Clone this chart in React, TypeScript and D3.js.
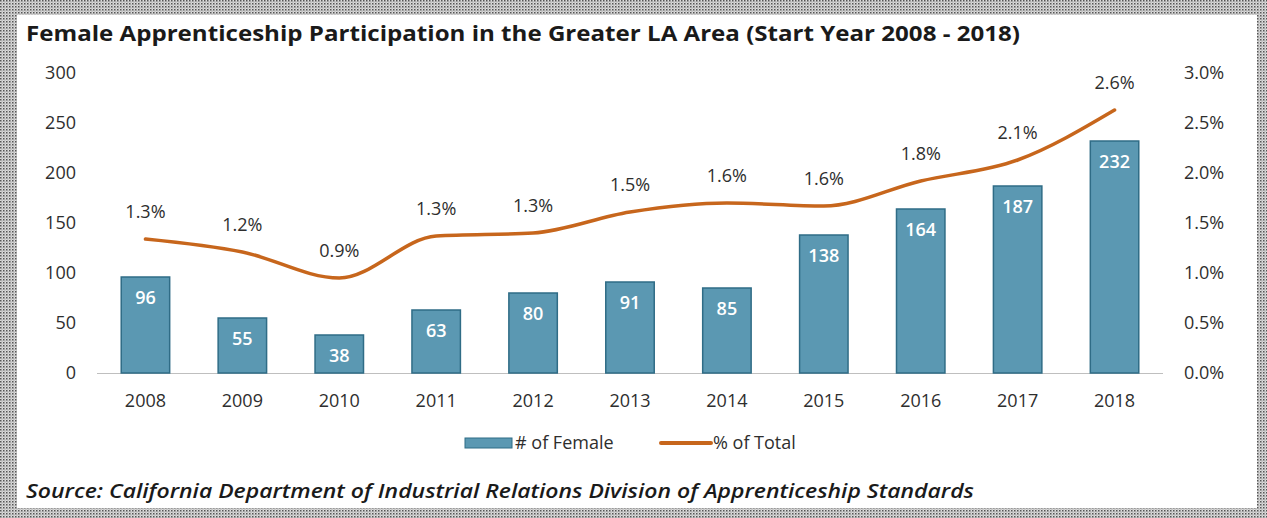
import * as d3 from "d3";
import { useEffect, useRef } from "react";

const years = ["2008", "2009", "2010", "2011", "2012", "2013", "2014", "2015", "2016", "2017", "2018"];
const femaleCounts = [96, 55, 38, 63, 80, 91, 85, 138, 164, 187, 232];
const pctOfTotal = [1.34, 1.21, 0.95, 1.37, 1.4, 1.61, 1.7, 1.67, 1.92, 2.13, 2.63];
const pctLabels = ["1.3%", "1.2%", "0.9%", "1.3%", "1.3%", "1.5%", "1.6%", "1.6%", "1.8%", "2.1%", "2.6%"];
const leftTicks = [0, 50, 100, 150, 200, 250, 300];
const rightTicks = [0, 0.5, 1, 1.5, 2, 2.5, 3];

export default function App() {
  const svgRef = useRef<SVGSVGElement | null>(null);

  useEffect(() => {
    if (!svgRef.current) return;
    const width = 1267;
    const height = 518;
    const font = "'Open Sans', 'DejaVu Sans', sans-serif";
    const labelColor = "#2e2e2e";

    const svg = d3.select(svgRef.current);
    svg.selectAll("*").remove();

    // dotted frame
    const defs = svg.append("defs");
    const pat = defs
      .append("pattern")
      .attr("id", "dots")
      .attr("width", 3)
      .attr("height", 3)
      .attr("patternUnits", "userSpaceOnUse");
    pat.append("rect").attr("width", 3).attr("height", 3).attr("fill", "#dcdcdc");
    pat.append("rect").attr("x", 0).attr("y", 0).attr("width", 1.5).attr("height", 1.5).attr("fill", "#555");
    pat.append("rect").attr("x", 1.5).attr("y", 1.5).attr("width", 1).attr("height", 1).attr("fill", "#888");

    svg.append("rect").attr("width", width).attr("height", height).attr("fill", "url(#dots)");
    svg
      .append("rect")
      .attr("x", 17)
      .attr("y", 15)
      .attr("width", 1257 - 17)
      .attr("height", 508 - 15)
      .attr("fill", "#fff");

    const x = d3.scaleBand<string>().domain(years).range([97, 1163]).paddingInner(0.5).paddingOuter(0.25);
    const yL = d3.scaleLinear().domain([0, 300]).range([373, 73]);
    const yR = d3.scaleLinear().domain([0, 3]).range([373, 73]);

    // title
    svg
      .append("text")
      .attr("x", 26)
      .attr("y", 41)
      .attr("font-family", font)
      .attr("font-weight", 700)
      .attr("font-size", 21)
      .attr("fill", "#1a1a1a")
      .attr("textLength", 994)
      .attr("lengthAdjust", "spacingAndGlyphs")
      .text("Female Apprenticeship Participation in the Greater LA Area (Start Year 2008 - 2018)");

    // left axis labels
    svg
      .append("g")
      .selectAll("text")
      .data(leftTicks)
      .enter()
      .append("text")
      .attr("x", 76)
      .attr("y", (d) => yL(d))
      .attr("dy", "0.35em")
      .attr("text-anchor", "end")
      .attr("font-family", font)
      .attr("font-size", 18)
      .attr("fill", labelColor)
      .text((d) => String(d));

    // right axis labels
    svg
      .append("g")
      .selectAll("text")
      .data(rightTicks)
      .enter()
      .append("text")
      .attr("x", 1184)
      .attr("y", (d) => yR(d))
      .attr("dy", "0.35em")
      .attr("font-family", font)
      .attr("font-size", 18)
      .attr("fill", labelColor)
      .text((d) => d3.format(".1f")(d) + "%");

    // baseline
    svg
      .append("line")
      .attr("x1", 97)
      .attr("x2", 1163)
      .attr("y1", yL(0) + 0.5)
      .attr("y2", yL(0) + 0.5)
      .attr("stroke", "#bfbfbf")
      .attr("stroke-width", 1);

    // bars
    svg
      .append("g")
      .selectAll("rect")
      .data(femaleCounts)
      .enter()
      .append("rect")
      .attr("x", (_, i) => x(years[i])!)
      .attr("y", (d) => yL(d))
      .attr("width", x.bandwidth())
      .attr("height", (d) => yL(0) - yL(d))
      .attr("fill", "#5b98b2")
      .attr("stroke", "#2f6c86")
      .attr("stroke-width", 1.5);

    svg
      .append("g")
      .selectAll("text")
      .data(femaleCounts)
      .enter()
      .append("text")
      .attr("x", (_, i) => x(years[i])! + x.bandwidth() / 2)
      .attr("y", (d) => yL(d) + 21)
      .attr("dy", "0.35em")
      .attr("text-anchor", "middle")
      .attr("font-family", font)
      .attr("font-weight", 600)
      .attr("font-size", 18)
      .attr("fill", "#ffffff")
      .text((d) => String(d));

    // line
    const cx = (i: number) => x(years[i])! + x.bandwidth() / 2;
    const line = d3
      .line<number>()
      .x((_, i) => cx(i))
      .y((d) => yR(d))
      .curve(d3.curveMonotoneX);
    svg
      .append("path")
      .datum(pctOfTotal)
      .attr("d", line)
      .attr("fill", "none")
      .attr("stroke", "#c7661c")
      .attr("stroke-width", 3.5)
      .attr("stroke-linecap", "round");

    svg
      .append("g")
      .selectAll("text")
      .data(pctOfTotal)
      .enter()
      .append("text")
      .attr("x", (_, i) => cx(i))
      .attr("y", (d) => yR(d) - 27)
      .attr("dy", "0.35em")
      .attr("text-anchor", "middle")
      .attr("font-family", font)
      .attr("font-size", 18)
      .attr("fill", labelColor)
      .text((_, i) => pctLabels[i]);

    // x labels
    svg
      .append("g")
      .selectAll("text")
      .data(years)
      .enter()
      .append("text")
      .attr("x", (d) => x(d)! + x.bandwidth() / 2)
      .attr("y", 401)
      .attr("dy", "0.35em")
      .attr("text-anchor", "middle")
      .attr("font-family", font)
      .attr("font-size", 18)
      .attr("fill", labelColor)
      .text((d) => d);

    // legend
    const lg = svg.append("g");
    lg.append("rect")
      .attr("x", 465)
      .attr("y", 438)
      .attr("width", 47)
      .attr("height", 10)
      .attr("fill", "#5b98b2")
      .attr("stroke", "#2f6c86")
      .attr("stroke-width", 1);
    lg.append("text")
      .attr("x", 515)
      .attr("y", 443)
      .attr("dy", "0.35em")
      .attr("font-family", font)
      .attr("font-size", 18)
      .attr("fill", labelColor)
      .text("# of Female");
    lg.append("line")
      .attr("x1", 661)
      .attr("x2", 711)
      .attr("y1", 443)
      .attr("y2", 443)
      .attr("stroke", "#c7661c")
      .attr("stroke-width", 4)
      .attr("stroke-linecap", "round");
    lg.append("text")
      .attr("x", 713)
      .attr("y", 443)
      .attr("dy", "0.35em")
      .attr("font-family", font)
      .attr("font-size", 18)
      .attr("fill", labelColor)
      .text("% of Total");

    // source
    svg
      .append("text")
      .attr("x", 26)
      .attr("y", 498)
      .attr("font-family", font)
      .attr("font-style", "italic")
      .attr("font-weight", 600)
      .attr("font-size", 19)
      .attr("fill", "#1a1a1a")
      .attr("textLength", 948)
      .attr("lengthAdjust", "spacingAndGlyphs")
      .text("Source: California Department of Industrial Relations Division of Apprenticeship Standards");
  }, []);

  return (
    <div style={{ position: "absolute", left: 0, top: 0 }}>
      <svg ref={svgRef} width={1267} height={518} viewBox="0 0 1267 518" style={{ display: "block" }} />
    </div>
  );
}
